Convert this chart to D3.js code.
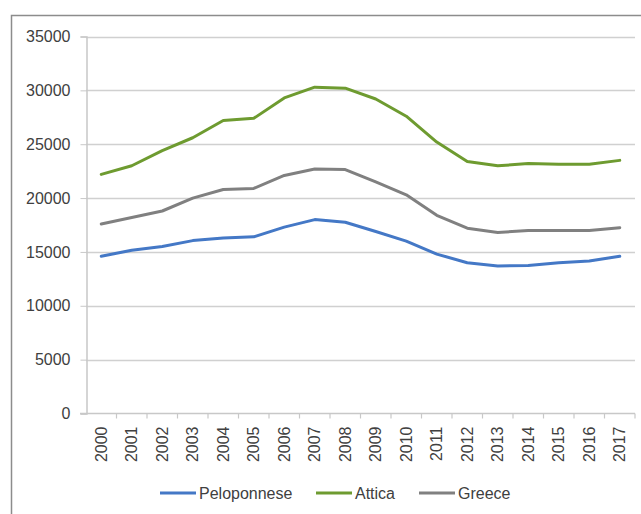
<!DOCTYPE html>
<html>
<head>
<meta charset="utf-8">
<script src="https://cdn.jsdelivr.net/npm/d3@7"></script>
<style>
html,body{margin:0;padding:0;background:#fff;}
svg{display:block;}
text{font-family:"Liberation Sans",Arial,sans-serif;fill:#404040;}
</style>
</head>
<body>
<svg id="chart" width="641" height="514"></svg>
<script>
const years = ["2000","2001","2002","2003","2004","2005","2006","2007","2008","2009","2010","2011","2012","2013","2014","2015","2016","2017"];
const peloponnese = [14600,15150,15500,16050,16300,16400,17300,18000,17750,16900,16000,14800,14000,13700,13750,14000,14150,14600];
const attica = [22200,23000,24400,25600,27200,27400,29300,30300,30200,29200,27600,25200,23400,23000,23200,23150,23150,23500];
const greece = [17600,18200,18800,20000,20800,20900,22100,22700,22650,21500,20300,18400,17200,16800,17000,17000,17000,17250];
const yTicks = [0,5000,10000,15000,20000,25000,30000,35000];
const seriesNames = ["Peloponnese","Attica","Greece"];
const seriesColors = ["#4478c6","#6e9b30","#808080"];

const series = [peloponnese, attica, greece];

const svg = d3.select("#chart");

// outer border (top and left visible)
svg.append("path")
  .attr("d","M11.5,514 L11.5,15.5 L641,15.5")
  .attr("fill","none").attr("stroke","#8c8c8c").attr("stroke-width",1.5);

const pLeft = 86, pRight = 635, pTop = 36.5, pBottom = 413.5;

const x = d3.scaleBand().domain(years).range([pLeft,pRight]);
const y = d3.scaleLinear().domain([0,35000]).range([pBottom,pTop]);

// gridlines
svg.append("g").selectAll("line").data(yTicks.filter(d=>d>0)).join("line")
  .attr("x1",pLeft).attr("x2",pRight)
  .attr("y1",d=>Math.round(y(d))+0.5).attr("y2",d=>Math.round(y(d))+0.5)
  .attr("stroke","#d0d0d0").attr("stroke-width",1.5);

// y axis
const yAxis = d3.axisLeft(y).tickValues(yTicks).tickSize(6).tickPadding(10).tickFormat(d3.format("d"));
const gy = svg.append("g").attr("transform",`translate(${pLeft+0.5},0)`).call(yAxis);
gy.select(".domain").attr("stroke","#c8c8c8").attr("stroke-width",1.5);
gy.selectAll(".tick line").attr("stroke","#c8c8c8");
gy.selectAll(".tick text").style("font-size","16px").attr("fill","#404040");

// x axis
const gx = svg.append("g").attr("transform",`translate(0,${pBottom})`);
gx.append("line").attr("x1",pLeft-6).attr("x2",pRight).attr("y1",0).attr("y2",0)
  .attr("stroke","#c8c8c8").attr("stroke-width",1.5);
const tickPos = years.map(d=>x(d)+x.bandwidth());
gx.selectAll("line.tk").data(tickPos).join("line").attr("class","tk")
  .attr("x1",d=>d).attr("x2",d=>d).attr("y1",0).attr("y2",5)
  .attr("stroke","#c8c8c8").attr("stroke-width",1.2);
gx.selectAll("text").data(years).join("text")
  .attr("transform",d=>`translate(${x(d)+x.bandwidth()/2+5.5},13) rotate(-90)`)
  .attr("text-anchor","end")
  .style("font-size","16px")
  .text(d=>d);

// lines
const line = d3.line().x((d,i)=>x(years[i])+x.bandwidth()/2).y(d=>y(d));
series.forEach((s,i)=>{
  svg.append("path").datum(s).attr("d",line)
    .attr("fill","none").attr("stroke",seriesColors[i])
    .attr("stroke-width",3).attr("stroke-linejoin","round").attr("stroke-linecap","round");
});

// legend
const legendX = [160,316,419];
const lg = svg.append("g");
seriesNames.forEach((n,i)=>{
  lg.append("line").attr("x1",legendX[i]).attr("x2",legendX[i]+36)
    .attr("y1",493).attr("y2",493).attr("stroke",seriesColors[i]).attr("stroke-width",3);
  lg.append("text").attr("x",legendX[i]+39).attr("y",498.5)
    .style("font-size","16px").text(n);
});
</script>
</body>
</html>
